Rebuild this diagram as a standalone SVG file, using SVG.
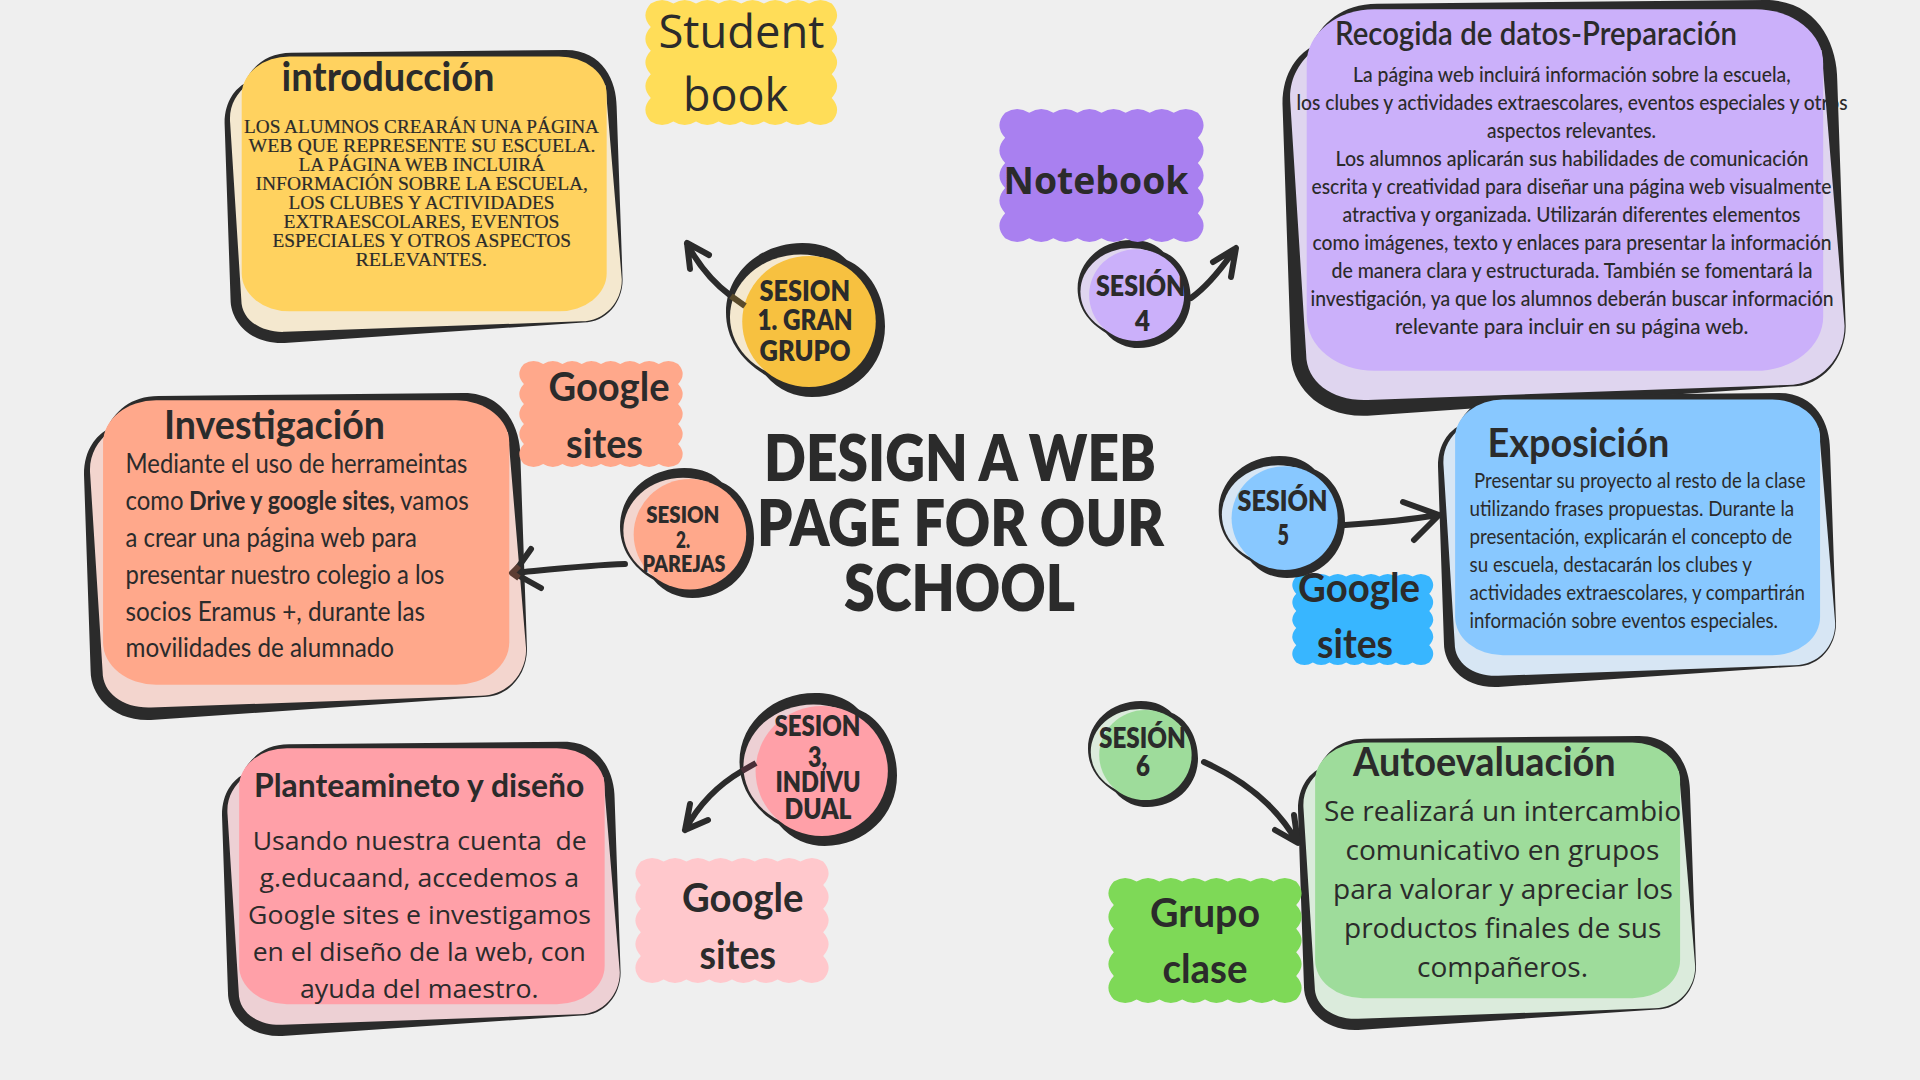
<svg xmlns="http://www.w3.org/2000/svg" width="1920" height="1080" viewBox="0 0 1920 1080">
<style>
text{fill:#2b2b2b;font-family:"Lato","Liberation Sans",sans-serif}
.t{font-size:41px;font-weight:700}
.g{font-size:41px;font-weight:700}
.s{font-weight:800}
.sf{font-family:"Liberation Serif",serif;font-size:19.5px;stroke:#2b2b2b;stroke-width:.2px}
.os{font-family:"Open Sans","Liberation Sans",sans-serif}
.b{font-size:26px}
.c{fill:none;stroke:#2b2b2b;stroke-width:6;stroke-linecap:round;stroke-linejoin:round}
.d{fill:#2b2b2b}
</style>
<defs>
<path id="card-dark" d="M168,9 L857,0 C952,0 985,110 985,193 L1000,784 C1000,860 960,930 901,930 L151,1000 C60,1005 15,920 15,852 L0,250 C0,170 30,130 50,114 C68,56 106,9 168,9Z"/>
<path id="card-pale" d="M56,119 L957,120 L998,784 C998,860 955,926 896,926 L151,962 C90,965 42,920 42,852 L14,250 C10,190 30,150 56,119Z"/>
<rect id="card-top" x="43" y="22" width="917" height="870" rx="120" ry="130"/>
<path id="blob-dark" d="M480,0 C620,0 700,50 760,110 C900,170 1000,340 1000,540 C1000,800 800,1000 540,1000 C440,1000 330,960 250,860 C90,760 0,620 0,450 C0,200 210,0 480,0Z"/>
<ellipse id="blob-pale" cx="470" cy="480" rx="445" ry="405"/>
<ellipse id="blob-top" cx="522" cy="510" rx="420" ry="425"/>
<path id="scallop" d="M30,28q58.75,-56 117.5,0q58.75,-56 117.5,0q58.75,-56 117.5,0q58.75,-56 117.5,0q58.75,-56 117.5,0q58.75,-56 117.5,0q58.75,-56 117.5,0q58.75,-56 117.5,0q56,94.4 0,188.8q56,94.4 0,188.8q56,94.4 0,188.8q56,94.4 0,188.8q56,94.4 0,188.8q-58.75,56 -117.5,0q-58.75,56 -117.5,0q-58.75,56 -117.5,0q-58.75,56 -117.5,0q-58.75,56 -117.5,0q-58.75,56 -117.5,0q-58.75,56 -117.5,0q-58.75,56 -117.5,0q-56,-94.4 0,-188.8q-56,-94.4 0,-188.8q-56,-94.4 0,-188.8q-56,-94.4 0,-188.8q-56,-94.4 0,-188.8Z"/>
</defs>
<rect width="1920" height="1080" fill="#efefef"/>

<g id="title">
<text font-size="65" font-weight="800" x="764" y="481" textLength="392" lengthAdjust="spacingAndGlyphs">DESIGN A WEB</text>
<text font-size="65" font-weight="800" x="757" y="546" textLength="407" lengthAdjust="spacingAndGlyphs">PAGE FOR OUR</text>
<text font-size="65" font-weight="800" x="844" y="611" textLength="231" lengthAdjust="spacingAndGlyphs">SCHOOL</text>
</g>

<g id="card-introduccion">
<g transform="translate(224.6,50) scale(.398,.293)"><use href="#card-dark" class="d"/><use href="#card-pale" fill="#f4e8cf"/><use href="#card-top" fill="#ffd25f"/></g>
<text class="t" x="281.6" y="90.7" textLength="213" lengthAdjust="spacingAndGlyphs">introducción</text>
<text class="sf" x="244" y="133" textLength="355" lengthAdjust="spacingAndGlyphs">LOS ALUMNOS CREARÁN UNA PÁGINA</text>
<text class="sf" x="248.5" y="152" textLength="347" lengthAdjust="spacingAndGlyphs">WEB QUE REPRESENTE SU ESCUELA.</text>
<text class="sf" x="298.5" y="171" textLength="246.6" lengthAdjust="spacingAndGlyphs">LA PÁGINA WEB INCLUIRÁ</text>
<text class="sf" x="255.5" y="190" textLength="332.5" lengthAdjust="spacingAndGlyphs">INFORMACIÓN SOBRE LA ESCUELA,</text>
<text class="sf" x="288.5" y="209" textLength="266" lengthAdjust="spacingAndGlyphs">LOS CLUBES Y ACTIVIDADES</text>
<text class="sf" x="283.5" y="228" textLength="276" lengthAdjust="spacingAndGlyphs">EXTRAESCOLARES, EVENTOS</text>
<text class="sf" x="272.5" y="247" textLength="298.5" lengthAdjust="spacingAndGlyphs">ESPECIALES Y OTROS ASPECTOS</text>
<text class="sf" x="355.5" y="266" textLength="131.6" lengthAdjust="spacingAndGlyphs">RELEVANTES.</text>
</g>

<g id="card-investigacion">
<g transform="translate(84,393) scale(.443,.327)"><use href="#card-dark" class="d"/><use href="#card-pale" fill="#f3d5ce"/><use href="#card-top" fill="#ffa88b"/></g>
<text class="t" x="164" y="439" textLength="221" lengthAdjust="spacingAndGlyphs">Investigación</text>
<text class="b" x="125.6" y="472.7" textLength="341.7" lengthAdjust="spacingAndGlyphs">Mediante el uso de herrameintas</text>
<text class="b" y="510"><tspan x="125.6" textLength="58" lengthAdjust="spacingAndGlyphs">como</tspan><tspan x="189" font-weight="700" textLength="206" lengthAdjust="spacingAndGlyphs">Drive y google sites,</tspan><tspan x="400" textLength="68.7" lengthAdjust="spacingAndGlyphs">vamos</tspan></text>
<text class="b" x="125.6" y="546.7" textLength="291.2" lengthAdjust="spacingAndGlyphs">a crear una página web para</text>
<text class="b" x="125.6" y="584" textLength="318.8" lengthAdjust="spacingAndGlyphs">presentar nuestro colegio a los</text>
<text class="b" x="125.6" y="620.7" textLength="299.4" lengthAdjust="spacingAndGlyphs">socios Eramus +, durante las</text>
<text class="b" x="125.6" y="657.3" textLength="268.4" lengthAdjust="spacingAndGlyphs">movilidades de alumnado</text>
</g>

<g id="card-planteamiento">
<g transform="translate(222,741.7) scale(.3986,.2943)"><use href="#card-dark" class="d"/><use href="#card-pale" fill="#edd0d4"/><use href="#card-top" fill="#ffa0a8"/></g>
<text font-size="33" font-weight="700" x="254" y="796.7" textLength="330.4" lengthAdjust="spacingAndGlyphs">Planteamineto y diseño</text>
<g font-size="26">
<text class="os" x="252.7" y="850" xml:space="preserve" textLength="334" lengthAdjust="spacingAndGlyphs">Usando nuestra cuenta  de</text>
<text class="os" x="259.6" y="886.7" textLength="319.4" lengthAdjust="spacingAndGlyphs">g.educaand, accedemos a</text>
<text class="os" x="248" y="924.3" textLength="343" lengthAdjust="spacingAndGlyphs">Google sites e investigamos</text>
<text class="os" x="252.7" y="961" textLength="333" lengthAdjust="spacingAndGlyphs">en el diseño de la web, con</text>
<text class="os" x="300" y="997.7" textLength="238.5" lengthAdjust="spacingAndGlyphs">ayuda del maestro.</text>
</g>
</g>

<g id="card-recogida">
<g transform="translate(1282.5,0) scale(.5632,.4157)"><use href="#card-dark" class="d"/><use href="#card-pale" fill="#dfd5ef"/><use href="#card-top" fill="#cbb0fa"/></g>
<text font-size="33" font-weight="600" x="1335" y="45" textLength="402" lengthAdjust="spacingAndGlyphs">Recogida de datos-Preparación</text>
<g font-size="22" font-weight="500">
<text x="1353" y="82.3" textLength="437.6" lengthAdjust="spacingAndGlyphs">La página web incluirá información sobre la escuela,</text>
<text x="1296.5" y="110" textLength="551" lengthAdjust="spacingAndGlyphs">los clubes y actividades extraescolares, eventos especiales y otros</text>
<text x="1487" y="138.3" textLength="169" lengthAdjust="spacingAndGlyphs">aspectos relevantes.</text>
<text x="1335.5" y="166" textLength="473" lengthAdjust="spacingAndGlyphs">Los alumnos aplicarán sus habilidades de comunicación</text>
<text x="1311.5" y="194.3" textLength="520" lengthAdjust="spacingAndGlyphs">escrita y creatividad para diseñar una página web visualmente</text>
<text x="1342.5" y="222" textLength="458" lengthAdjust="spacingAndGlyphs">atractiva y organizada. Utilizarán diferentes elementos</text>
<text x="1312.5" y="250" textLength="519" lengthAdjust="spacingAndGlyphs">como imágenes, texto y enlaces para presentar la información</text>
<text x="1331.5" y="278.3" textLength="481" lengthAdjust="spacingAndGlyphs">de manera clara y estructurada. También se fomentará la</text>
<text x="1310.5" y="306" textLength="523" lengthAdjust="spacingAndGlyphs">investigación, ya que los alumnos deberán buscar información</text>
<text x="1395" y="334" textLength="353.4" lengthAdjust="spacingAndGlyphs">relevante para incluir en su página web.</text>
</g>
</g>

<g id="card-exposicion">
<g transform="translate(1438,393) scale(.398,.294)"><use href="#card-dark" class="d"/><use href="#card-pale" fill="#d7e6f4"/><use href="#card-top" fill="#88c8ff"/></g>
<text class="t" x="1487.5" y="456.7" textLength="181.7" lengthAdjust="spacingAndGlyphs">Exposición</text>
<g font-size="21">
<text x="1474" y="488.3" textLength="331.5" lengthAdjust="spacingAndGlyphs">Presentar su proyecto al resto de la clase</text>
<text x="1469.5" y="516" textLength="324.7" lengthAdjust="spacingAndGlyphs">utilizando frases propuestas. Durante la</text>
<text x="1469.5" y="544.3" textLength="322.6" lengthAdjust="spacingAndGlyphs">presentación, explicarán el concepto de</text>
<text x="1469.5" y="572.3" textLength="282.4" lengthAdjust="spacingAndGlyphs">su escuela, destacarán los clubes y</text>
<text x="1469.5" y="600" textLength="335.5" lengthAdjust="spacingAndGlyphs">actividades extraescolares, y compartirán</text>
<text x="1469.5" y="628.3" textLength="308.5" lengthAdjust="spacingAndGlyphs">información sobre eventos especiales.</text>
</g>
</g>

<g id="card-autoevaluacion">
<g transform="translate(1298,736) scale(.398,.294)"><use href="#card-dark" class="d"/><use href="#card-pale" fill="#dbebdc"/><use href="#card-top" fill="#9edc9b"/></g>
<text class="t" x="1353" y="775.7" textLength="262.7" lengthAdjust="spacingAndGlyphs">Autoevaluación</text>
<g font-size="27">
<text class="os" x="1324" y="820.7" textLength="357" lengthAdjust="spacingAndGlyphs">Se realizará un intercambio</text>
<text class="os" x="1345.5" y="860" textLength="313.9" lengthAdjust="spacingAndGlyphs">comunicativo en grupos</text>
<text class="os" x="1333" y="899" textLength="340" lengthAdjust="spacingAndGlyphs">para valorar y apreciar los</text>
<text class="os" x="1344" y="938.3" textLength="317.4" lengthAdjust="spacingAndGlyphs">productos finales de sus</text>
<text class="os" x="1417" y="976.7" textLength="171" lengthAdjust="spacingAndGlyphs">compañeros.</text>
</g>
</g>

<g id="sesion-4">
<g transform="translate(1077.6,240) scale(.1131,.108)"><use href="#blob-dark" class="d"/><use href="#blob-pale" fill="#dfd5ef"/><use href="#blob-top" fill="#cbb0fa"/></g>
</g>

<g id="tag-student">
<use href="#scallop" transform="translate(645,0) scale(.1925,.125)" fill="#ffdd58"/>
<text class="os" font-size="46" x="658.5" y="47.7" textLength="166" lengthAdjust="spacingAndGlyphs">Student</text>
<text class="os" font-size="46" x="683" y="111" textLength="105" lengthAdjust="spacingAndGlyphs">book</text>
</g>
<g id="tag-notebook">
<use href="#scallop" transform="translate(999,109) scale(.205,.133)" fill="#a980f0"/>
<text class="os" font-size="38" font-weight="700" x="1003.5" y="194" textLength="185" lengthAdjust="spacingAndGlyphs">Notebook</text>
</g>
<g id="tag-google-orange">
<use href="#scallop" transform="translate(519,361) scale(.164,.106)" fill="#ffa88b"/>
<text class="g" x="548.5" y="401" textLength="121" lengthAdjust="spacingAndGlyphs">Google</text>
<text class="g" x="566" y="457.5" textLength="77" lengthAdjust="spacingAndGlyphs">sites</text>
</g>
<g id="tag-google-pink">
<use href="#scallop" transform="translate(635,858) scale(.194,.125)" fill="#ffc8cc"/>
<text class="g" x="682" y="912" textLength="121.5" lengthAdjust="spacingAndGlyphs">Google</text>
<text class="g" x="699.5" y="968.5" textLength="76.5" lengthAdjust="spacingAndGlyphs">sites</text>
</g>
<g id="tag-google-blue">
<use href="#scallop" transform="translate(1292,574) scale(.1415,.091)" fill="#38b6ff"/>
<text class="g" x="1298" y="602" textLength="122" lengthAdjust="spacingAndGlyphs">Google</text>
<text class="g" x="1317" y="658" textLength="76" lengthAdjust="spacingAndGlyphs">sites</text>
</g>
<g id="tag-grupo">
<use href="#scallop" transform="translate(1108,878) scale(.194,.125)" fill="#7ed957"/>
<text class="g" x="1150" y="926.5" textLength="110" lengthAdjust="spacingAndGlyphs">Grupo</text>
<text class="g" x="1162.5" y="983" textLength="85" lengthAdjust="spacingAndGlyphs">clase</text>
</g>

<g id="sesion-1">
<g transform="translate(726,243) scale(.159,.154)"><use href="#blob-dark" class="d"/><use href="#blob-pale" fill="#f4e8cf"/><use href="#blob-top" fill="#f7c140"/></g>
</g>
<g id="sesion-2">
<g transform="translate(620,468) scale(.134,.13)"><use href="#blob-dark" class="d"/><use href="#blob-pale" fill="#f3d5ce"/><use href="#blob-top" fill="#ffa88b"/></g>
</g>
<g id="sesion-3">
<g transform="translate(739.5,693) scale(.1575,.153)"><use href="#blob-dark" class="d"/><use href="#blob-pale" fill="#edd0d4"/><use href="#blob-top" fill="#ffa0a8"/></g>
</g>
<g id="sesion-5">
<g transform="translate(1218.7,456) scale(.1263,.122)"><use href="#blob-dark" class="d"/><use href="#blob-pale" fill="#d7e6f4"/><use href="#blob-top" fill="#88c8ff"/></g>
</g>
<g id="sesion-6">
<g transform="translate(1088,701) scale(.11,.106)"><use href="#blob-dark" class="d"/><use href="#blob-pale" fill="#dbebdc"/><use href="#blob-top" fill="#9edc9b"/></g>
</g>

<g id="connectors">
<path class="c" d="M731,296 C712,282 698,264 687,244M709,255L687,243L690,269"/>
<path class="c" style="stroke:#5a4a2a;stroke-linecap:butt" d="M731,296L745,306"/>
<path class="c" d="M625,564C590,565 555,569 514,573M531,549L514,573L541,588"/>
<path class="c" style="stroke:#5c3d33;stroke-linecap:butt" d="M519,566L512,573L519,578"/>
<path class="c" d="M742,771C716,786 698,806 685,830M690,804L685,830L708,820"/>
<path class="c" style="stroke:#4a2f38;stroke-linecap:butt" d="M742,771L756,763"/>
<path class="c" d="M1191,298C1208,286 1222,268 1235,249M1213,262L1236,248L1231,277"/>
<path class="c" d="M1345,525C1375,523 1408,520 1438,515M1403,502L1439,515L1414,540"/>
<path class="c" d="M1204,762C1248,782 1278,808 1297,842M1294,815L1298,843L1275,830"/>
</g>

<g id="sesion-labels">
<text class="s" font-size="29" x="759.5" y="301" textLength="90.5" lengthAdjust="spacingAndGlyphs">SESION</text>
<text class="s" font-size="29" x="757.5" y="330" textLength="95" lengthAdjust="spacingAndGlyphs">1. GRAN</text>
<text class="s" font-size="29" x="759.5" y="360.5" textLength="91" lengthAdjust="spacingAndGlyphs">GRUPO</text>
<text class="s" font-size="22" x="646.3" y="523" textLength="73.2" lengthAdjust="spacingAndGlyphs">SESION</text>
<text class="s" font-size="22" x="676" y="548" textLength="14" lengthAdjust="spacingAndGlyphs">2.</text>
<text class="s" font-size="22" x="642.5" y="571.7" textLength="83" lengthAdjust="spacingAndGlyphs">PAREJAS</text>
<text class="s" font-size="27.5" x="774.5" y="735.7" textLength="86" lengthAdjust="spacingAndGlyphs">SESION</text>
<text class="s" font-size="27.5" x="808" y="767" textLength="19" lengthAdjust="spacingAndGlyphs">3,</text>
<text class="s" font-size="27.5" x="775.5" y="791.7" textLength="85" lengthAdjust="spacingAndGlyphs">INDIVU</text>
<text class="s" font-size="27.5" x="784.5" y="819" textLength="67" lengthAdjust="spacingAndGlyphs">DUAL</text>
<text class="s" font-size="28" x="1096" y="296" textLength="89.5" lengthAdjust="spacingAndGlyphs">SESIÓN</text>
<text class="s" font-size="28" x="1135" y="330.7" textLength="15" lengthAdjust="spacingAndGlyphs">4</text>
<text class="s" font-size="28" x="1237.5" y="510.7" textLength="90" lengthAdjust="spacingAndGlyphs">SESIÓN</text>
<text class="s" font-size="28" x="1277.5" y="545" textLength="11.5" lengthAdjust="spacingAndGlyphs">5</text>
<text class="s" font-size="28" x="1099" y="748.3" textLength="86.7" lengthAdjust="spacingAndGlyphs">SESIÓN</text>
<text class="s" font-size="28" x="1136" y="776" textLength="14" lengthAdjust="spacingAndGlyphs">6</text>
</g>
</svg>
